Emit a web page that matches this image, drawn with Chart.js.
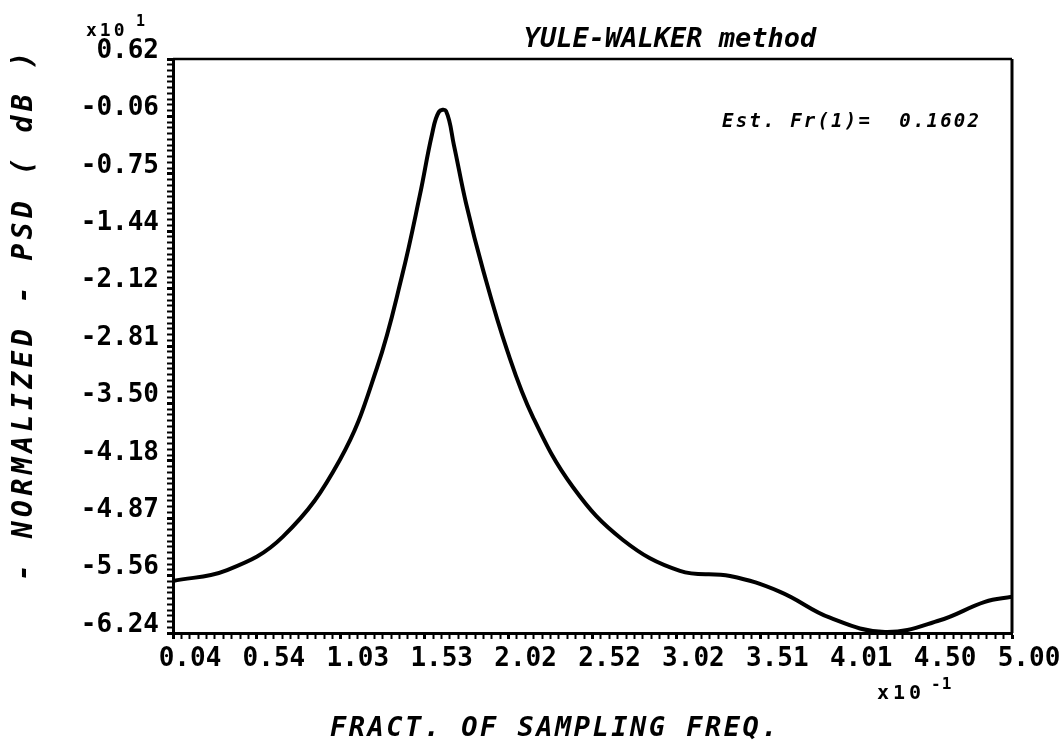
<!DOCTYPE html>
<html lang="en">
  <head>
    <meta charset="UTF-8" />
    <title>YULE-WALKER method</title>
    <style>
      body{
        margin: 0;
        background: #fff;
      }
      canvas{
        display: block;
      }
    </style>
  </head>
  <body>
    <canvas id="psd" width="1063" height="744"></canvas>
    <script src="https://cdn.jsdelivr.net/npm/chart.js"></script>
    <script>
      // frequency in units of x10^-1, psd in units of x10^1 dB
      const freq = [0.040, 0.360, 0.690, 1.027, 1.246, 1.394, 1.500, 1.571, 1.612, 1.654, 1.701, 1.772, 1.873, 2.015, 2.168, 2.405, 2.700, 3.037, 3.333, 3.629, 3.924, 4.249, 4.574, 4.840, 5.000];
      const psd = [-5.62, -5.49, -5.09, -4.17, -3.07, -1.97, -1.00, -0.28, -0.01, 0.00, -0.41, -1.10, -1.90, -2.86, -3.66, -4.50, -5.13, -5.50, -5.56, -5.75, -6.06, -6.23, -6.09, -5.87, -5.81];

      const xTickLabels = ["0.04", "0.54", "1.03", "1.53", "2.02", "2.52", "3.02", "3.51", "4.01", "4.50", "5.00"];
      const yTickLabels = ["-6.24", "-5.56", "-4.87", "-4.18", "-3.50", "-2.81", "-2.12", "-1.44", "-0.75", "-0.06", "0.62"];
      const xMin = 0.04, xMax = 5.00;
      const yMin = -6.2425, yMax = 0.6225;

      const monoFont = "'DejaVu Sans Mono', 'Liberation Mono', monospace";

      // 10 minor ticks between each labelled tick
      function minorTicks(scale) {
        const ticks = [];
        for (let i = 0; i <= 100; i++) {
          ticks.push({ value: scale.min + (scale.max - scale.min) * i / 100 });
        }
        scale.ticks = ticks;
      }

      const frame = {
        id: "frame",
        afterDraw(chart) {
          const { ctx, chartArea: a } = chart;
          ctx.save();
          ctx.strokeStyle = "#000";
          ctx.lineWidth = 2.5;
          ctx.beginPath();
          ctx.moveTo(a.left, a.top);
          ctx.lineTo(a.right, a.top);
          ctx.stroke();
          ctx.lineWidth = 3;
          ctx.beginPath();
          ctx.moveTo(a.right, a.top);
          ctx.lineTo(a.right, a.bottom);
          ctx.stroke();

          ctx.fillStyle = "#000";
          ctx.textBaseline = "alphabetic";

          // title
          ctx.font = "italic bold 27px " + monoFont;
          ctx.letterSpacing = "0px";
          ctx.textAlign = "center";
          ctx.fillText("YULE-WALKER method", 670, 47);

          // estimate
          ctx.font = "italic bold 19px " + monoFont;
          ctx.letterSpacing = "2.2px";
          ctx.textAlign = "left";
          ctx.fillText("Est. Fr(1)=  0.1602", 722, 127);

          // multipliers
          ctx.font = "bold 18px " + monoFont;
          ctx.letterSpacing = "3px";
          ctx.fillText("x10", 86, 36);
          ctx.font = "bold 20px " + monoFont;
          ctx.letterSpacing = "4px";
          ctx.fillText("x10", 877, 699);
          ctx.font = "bold 15px " + monoFont;
          ctx.letterSpacing = "1px";
          ctx.fillText("1", 136, 26);
          ctx.font = "bold 16px " + monoFont;
          ctx.fillText("-1", 931, 689);

          // x axis title
          ctx.font = "italic bold 27px " + monoFont;
          ctx.letterSpacing = "2.5px";
          ctx.textAlign = "center";
          ctx.fillText("FRACT. OF SAMPLING FREQ.", 555, 736);

          // y axis title
          ctx.font = "italic bold 28px " + monoFont;
          ctx.translate(32, 314);
          ctx.rotate(-Math.PI / 2);
          ctx.letterSpacing = "4.5px";
          ctx.fillText("- NORMALIZED - PSD ( dB )", 0, 0);
          ctx.restore();
        }
      };

      const ctx = document.getElementById("psd").getContext("2d");
      new Chart(ctx, {
        type: "line",
        data: {
          datasets: [
            {
              data: freq.map((f, i) => ({ x: f, y: psd[i] })),
              borderColor: "#000",
              borderWidth: 4,
              pointRadius: 0,
              tension: 0.4,
              fill: false,
            },
          ],
        },
        options: {
          responsive: false,
          animation: false,
          layout: { padding: { top: 59, right: 51, left: 0, bottom: 0 } },
          plugins: {
            legend: { display: false },
            tooltip: { enabled: false },
          },
          scales: {
            x: {
              type: "linear",
              min: xMin,
              max: xMax,
              afterBuildTicks: minorTicks,
              afterFit(scale) { scale.height = 111; },
              border: { display: true, color: "#000", width: 3 },
              grid: {
                drawOnChartArea: false,
                color: "#000",
                tickLength: 6,
                tickWidth: (c) => (c.index % 10 === 0 ? 3 : 2),
              },
              ticks: {
                autoSkip: false,
                maxRotation: 0,
                padding: 5,
                labelOffset: 17,
                color: "#000",
                font: { family: monoFont, size: 26, weight: "bold" },
                callback: (v, i) => (i % 10 === 0 ? xTickLabels[i / 10] : ""),
              },
            },
            y: {
              type: "linear",
              min: yMin,
              max: yMax,
              afterBuildTicks: minorTicks,
              afterFit(scale) { scale.width = 173; },
              border: { display: true, color: "#000", width: 3 },
              grid: {
                drawOnChartArea: false,
                color: "#000",
                tickLength: 6,
                tickWidth: (c) => (c.index % 10 === 0 ? 3 : 2),
              },
              ticks: {
                autoSkip: false,
                padding: 8,
                labelOffset: -8,
                color: "#000",
                font: { family: monoFont, size: 26, weight: "bold" },
                callback: (v, i) => (i % 10 === 0 ? yTickLabels[i / 10] : ""),
              },
            },
          },
        },
        plugins: [frame],
      });
    </script>
  </body>
</html>
